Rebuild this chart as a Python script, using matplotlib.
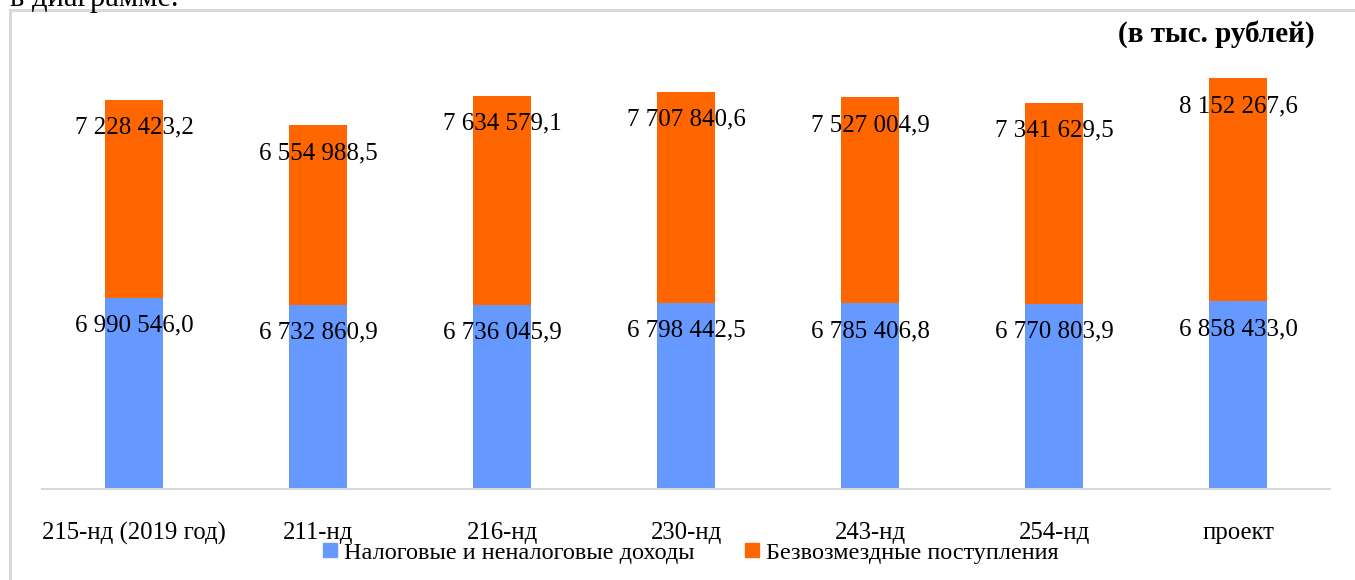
import numpy as np
import matplotlib.pyplot as plt
from matplotlib.patches import Rectangle, Patch

# данные
categories = ["215-нд (2019 год)", "211-нд", "216-нд", "230-нд", "243-нд", "254-нд", "проект"]
nalog = [6990546.0, 6732860.9, 6736045.9, 6798442.5, 6785406.8, 6770803.9, 6858433.0]
bezvozm = [7228423.2, 6554988.5, 7634579.1, 7707840.6, 7527004.9, 7341629.5, 8152267.6]

c_blue = "#6699FF"
c_orange = "#FF6600"

plt.rcParams['font.family'] = ['Liberation Serif', 'DejaVu Serif']


def fmt(v):
    return f"{v:,.1f}".replace(",", " ").replace(".", ",")


W, H = 1355, 580
fig = plt.figure(figsize=(W / 100, H / 100), dpi=100)

# рамка и обрезанный текст сверху
fig.patches.append(Rectangle((10 / W, -0.1), 1.2, (H - 10) / H + 0.1, transform=fig.transFigure,
                             fill=False, edgecolor="#D9D9D9", linewidth=2.2))
fig.text(10 / W, 1 - 6 / H, "в диаграмме.", fontsize=22, va="baseline", ha="left")

ax = fig.add_axes([42 / W, 91 / H, (1330 - 42) / W, (489 - 51) / H])
x = np.arange(len(categories))
bw = 58 / 184.3

b1 = ax.bar(x, nalog, bw, color=c_blue, label="Налоговые и неналоговые доходы")
b2 = ax.bar(x, bezvozm, bw, bottom=nalog, color=c_orange, label="Безвозмездные поступления")

for i in range(len(x)):
    ax.annotate(fmt(nalog[i]), (x[i], nalog[i]), xytext=(0, -28), textcoords="offset pixels",
                ha="center", va="center", fontsize=18)
    ax.annotate(fmt(bezvozm[i]), (x[i], nalog[i] + bezvozm[i]), xytext=(0, -28),
                textcoords="offset pixels", ha="center", va="center", fontsize=18)

ax.set_xlim(-0.5, len(x) - 0.5)
ax.set_ylim(0, 16000000)
ax.set_yticks([])
for s in ["top", "right", "left"]:
    ax.spines[s].set_visible(False)
ax.spines["bottom"].set_color("#D9D9D9")
ax.spines["bottom"].set_linewidth(1.5)
ax.set_xticks(x)
ax.set_xticklabels(categories, fontsize=17.8)
ax.tick_params(axis="x", length=0, pad=24)

fig.text(1315 / W, 1 - 34 / H, "(в тыс. рублей)", fontsize=21, fontweight="bold",
         ha="right", va="center")

handles = [Patch(color=c_blue), Patch(color=c_orange)]
fig.legend(handles, ["Налоговые и неналоговые доходы", "Безвозмездные поступления"],
           loc="center", bbox_to_anchor=(691 / W, 1 - 553 / H), ncol=2, frameon=False,
           fontsize=17.5, handlelength=0.55, handleheight=0.55, handletextpad=0.3,
           columnspacing=2.1)

fig.savefig("out.png", dpi=100)
